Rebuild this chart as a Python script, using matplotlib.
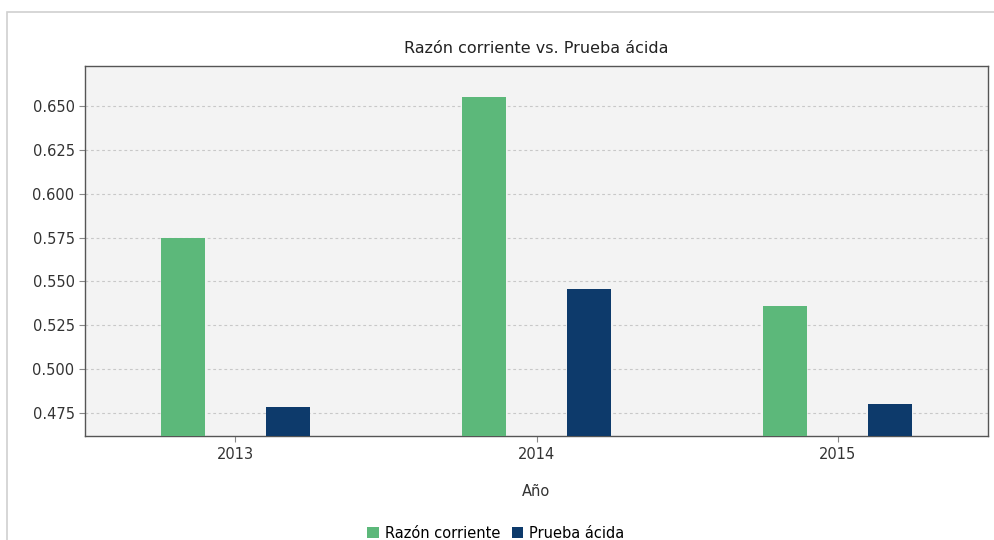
import numpy as np
import matplotlib
matplotlib.use("Agg")
import matplotlib.pyplot as plt
from matplotlib.patches import Rectangle

# data
years = ["2013", "2014", "2015"]
razon_corriente = [0.575, 0.655, 0.536]
prueba_acida = [0.4786, 0.5454, 0.4801]
yticks = [0.475, 0.500, 0.525, 0.550, 0.575, 0.600, 0.625, 0.650]

green = "#5cb87a"
navy = "#0d3a6b"

fig = plt.figure(figsize=(9.95, 5.40), dpi=100)
fig.patch.set_facecolor("white")
# light panel border like the screenshot
fig.patches.append(Rectangle((0.007, -0.01), 1.0, 0.988, transform=fig.transFigure,
                             fill=False, edgecolor="#d0d0d0", linewidth=1.2))

ax = fig.add_axes([0.0854, 0.1917, 0.9076, 0.6861])
ax.set_facecolor("#f3f3f3")

x = np.arange(len(years))
w = 0.146
off = 0.174
ax.bar(x - off, razon_corriente, width=w, color=green, label="Razón corriente", zorder=3)
ax.bar(x + off, prueba_acida, width=w, color=navy, label="Prueba ácida", zorder=3)

ax.set_xlim(-0.5, 2.5)
ax.set_ylim(0.4616, 0.6728)
ax.set_yticks(yticks)
ax.set_yticklabels(["%.3f" % v for v in yticks])
ax.set_xticks(x)
ax.set_xticklabels(years)
ax.tick_params(labelsize=10.5, length=4, width=0.8, colors="#888888", labelcolor="#333333")
ax.grid(axis="y", linestyle=(0, (2.5, 2.5)), color="#c8c8c8", linewidth=0.8, zorder=0)

for s in ax.spines.values():
    s.set_color("#555555")
    s.set_linewidth(1.0)

ax.set_title("Razón corriente vs. Prueba ácida", fontsize=11.5, color="#222222", pad=9)
ax.set_xlabel("Año", fontsize=10.5, color="#333333", labelpad=16)

ax.legend(loc="upper center", bbox_to_anchor=(0.455, -0.225), ncol=2, frameon=False,
          fontsize=10.5, handlelength=0.8, handleheight=0.8, handletextpad=0.4,
          columnspacing=0.8, borderaxespad=0)

plt.savefig("out.png", dpi=100)
